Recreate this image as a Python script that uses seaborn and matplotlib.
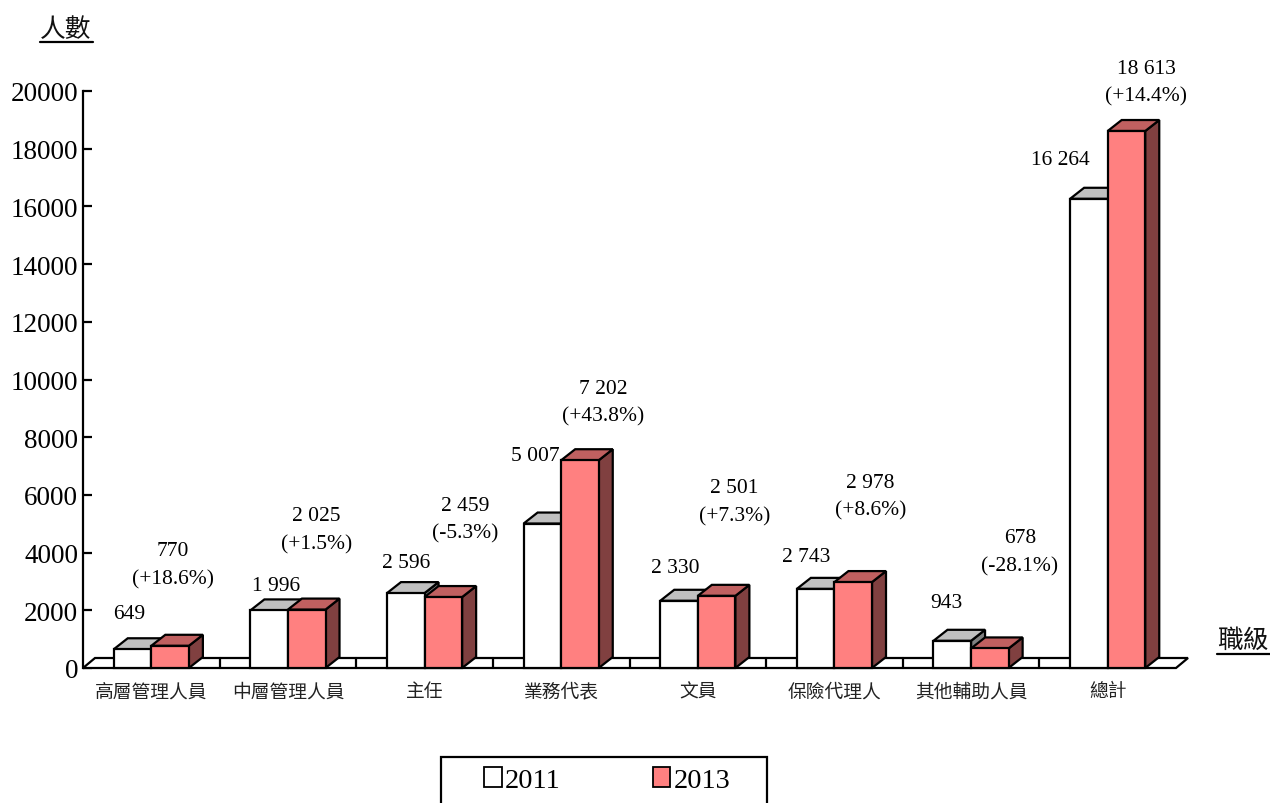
import matplotlib
matplotlib.use("Agg")
import matplotlib.pyplot as plt
import pandas as pd
import seaborn as sns
from matplotlib.patches import Polygon, Rectangle, Patch
from matplotlib.lines import Line2D

# ---- data -------------------------------------------------------------
categories = ["高層管理人員", "中層管理人員", "主任", "業務代表",
              "文員", "保險代理人", "其他輔助人員", "總計"]
years = ["2011", "2013"]
counts_2011 = [649, 1996, 2596, 5007, 2330, 2743, 943, 16264]
counts_2013 = [770, 2025, 2459, 7202, 2501, 2978, 678, 18613]
change_pct = [18.6, 1.5, -5.3, 43.8, 7.3, 8.6, -28.1, 14.4]
y_ticks = list(range(0, 20001, 2000))

# ---- layout / style ---------------------------------------------------
W, H = 1270, 804
SERIF = "Liberation Serif"
CJK = "Noto Sans CJK TC"
front_colors = {"2011": "#FFFFFF", "2013": "#FF8080"}
top_colors = {"2011": "#C0C0C0", "2013": "#C06060"}
side_colors = {"2011": "#808080", "2013": "#804040"}

# value-label offsets in pixels from the top centre of each bar
offs_2011 = [(-3, 36), (7, 25), (0, 31), (-7, 68), (-4, 33), (-9, 32), (-6, 38), (-29, 39)]
offs_2013 = [(3, 67), (10, 66), (22, 64), (23, 44), (18, 80), (17, 72), (30, 83), (20, 35)]

sns.set_style("white")
plt.rcParams["font.family"] = [SERIF, CJK, "DejaVu Sans"]
plt.rcParams["text.color"] = "black"
plt.rcParams["xtick.color"] = "black"
plt.rcParams["ytick.color"] = "black"

fig = plt.figure(figsize=(W / 100, H / 100), dpi=100)
ax_l, ax_r, ax_b, ax_t = 83, 1176, 669, 92
ax = fig.add_axes([ax_l / W, 1 - ax_b / H, (ax_r - ax_l) / W, (ax_b - ax_t) / H])

df = pd.DataFrame({
    "職級": categories * 2,
    "人數": counts_2011 + counts_2013,
    "年份": [years[0]] * len(categories) + [years[1]] * len(categories),
})
sns.barplot(data=df, x="職級", y="人數", hue="年份", order=categories,
            hue_order=years, palette=front_colors, saturation=1, width=0.55,
            edgecolor="black", linewidth=1.6, errorbar=None, legend=False, ax=ax)

ax.set_xlim(-0.5, len(categories) - 0.5)
ax.set_ylim(0, 20000)

# pixel -> data conversions for the depth effect
px_x = (len(categories)) / (ax_r - ax_l)
px_y = 20000 / (ax_b - ax_t)
bdx, bdy = 14 * px_x, 11 * px_y      # bar depth
fdx, fdy = 12 * px_x, 10 * px_y      # floor depth

# floor slab
x_lo, x_hi = -0.5, len(categories) - 0.5
ax.add_patch(Polygon([(x_lo, 0), (x_hi, 0), (x_hi + fdx, fdy), (x_lo + fdx, fdy)],
                     closed=True, facecolor="white", edgecolor="black",
                     linewidth=1.6, zorder=1, clip_on=False))
for b in range(1, len(categories)):
    ax.add_line(Line2D([b - 0.5, b - 0.5], [0, fdy], color="black",
                       linewidth=1.6, zorder=1.1, clip_on=False))

# 3-D faces on each bar
for i, (year, cont) in enumerate(zip(years, ax.containers)):
    for p in cont.patches:
        x0, w, h = p.get_x(), p.get_width(), p.get_height()
        p.set_zorder(3 + 2 * i)
        p.set_clip_on(False)
        top = [(x0, h), (x0 + w, h), (x0 + w + bdx, h + bdy), (x0 + bdx, h + bdy)]
        side = [(x0 + w, 0), (x0 + w + bdx, bdy), (x0 + w + bdx, h + bdy), (x0 + w, h)]
        ax.add_patch(Polygon(side, closed=True, facecolor=side_colors[year],
                             edgecolor="black", linewidth=1.6, zorder=2 + 2 * i,
                             clip_on=False, joinstyle="miter"))
        ax.add_patch(Polygon(top, closed=True, facecolor=top_colors[year],
                             edgecolor="black", linewidth=1.6, zorder=2 + 2 * i,
                             clip_on=False, joinstyle="miter"))

# value labels
def fmt(v):
    return f"{v:,}".replace(",", " ")

LBL = 15.5
for j, p in enumerate(ax.containers[0].patches):
    cx = p.get_x() + p.get_width() / 2
    ax.annotate(fmt(counts_2011[j]), xy=(cx, p.get_height()), xytext=offs_2011[j],
                textcoords="offset pixels", ha="center", va="center", color="black",
                fontsize=LBL, family=SERIF, annotation_clip=False, zorder=10)

for j, p in enumerate(ax.containers[1].patches):
    cx = p.get_x() + p.get_width() / 2
    ox, oy = offs_2013[j]
    ax.annotate(f"({change_pct[j]:+.1f}%)", xy=(cx, p.get_height()), xytext=(ox, oy),
                textcoords="offset pixels", ha="center", va="center", color="black",
                fontsize=LBL, family=SERIF, annotation_clip=False, zorder=10)
    ax.annotate(fmt(counts_2013[j]), xy=(cx, p.get_height()), xytext=(ox, oy + 28),
                textcoords="offset pixels", ha="center", va="center", color="black",
                fontsize=LBL, family=SERIF, annotation_clip=False, zorder=10)

# axes styling
for s in ["top", "right", "bottom"]:
    ax.spines[s].set_visible(False)
ax.spines["left"].set_linewidth(1.6)
ax.spines["left"].set_color("black")
ax.spines["left"].set_zorder(12)
ax.set_yticks(y_ticks)
ax.set_yticklabels([str(t) for t in y_ticks], fontsize=19.5, family=SERIF, color="black")
ax.tick_params(axis="y", direction="in", length=6.5, width=1.6, pad=3.5,
               left=True, colors="black")
ax.tick_params(axis="x", length=0, pad=9)
for lab in ax.get_xticklabels():
    lab.set_fontfamily([CJK])
    lab.set_fontsize(13.5)
    lab.set_color("#222222")
ax.set_xlabel("")
ax.set_ylabel("")
ax.grid(False)
ax.patch.set_alpha(0)

# axis titles with underline
def underlined(text, cx, cy, x0, x1, uy, size):
    fig.text(cx / W, 1 - cy / H, text, ha="center", va="center",
             fontsize=size, family=[CJK], color="#111111")
    fig.add_artist(Line2D([x0 / W, x1 / W], [1 - uy / H, 1 - uy / H],
                          transform=fig.transFigure, color="black", linewidth=1.6))

underlined("人數", 66, 30, 40, 93, 43, 18.5)
underlined("職級", 1243, 641, 1217, 1270, 655, 18.5)

# legend with its own frame
fig.add_artist(Rectangle((441 / W, 1 - 812 / H), (767 - 441) / W, (812 - 758) / H,
                         transform=fig.transFigure, facecolor="white",
                         edgecolor="black", linewidth=1.6))
handles = [Patch(facecolor=front_colors[y], edgecolor="black", linewidth=1.3) for y in years]
fig.legend(handles, years, loc="upper left", bbox_to_anchor=(484 / W, 1 - 768 / H),
           ncol=2, frameon=False, prop={"family": SERIF, "size": 20.5},
           labelcolor="black", handlelength=0.62, handleheight=0.7, handletextpad=0.1,
           columnspacing=3.25, borderpad=0, borderaxespad=0)

fig.savefig("out.png", dpi=100)
